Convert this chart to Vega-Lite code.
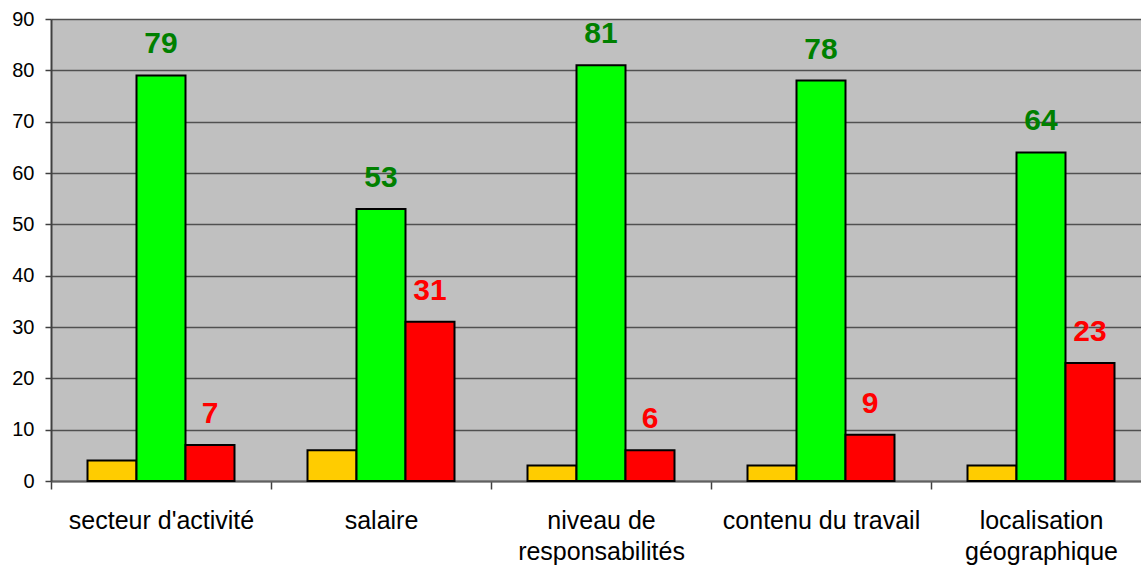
{
  "$schema": "https://vega.github.io/schema/vega-lite/v6.json",
  "autosize": {"type": "none"},
  "padding": {"left": 51, "top": 19, "right": 0, "bottom": 85},
  "width": 1100,
  "height": 462,
  "background": "white",
  "config": {
    "view": {"fill": "#C0C0C0", "stroke": null},
    "font": "Liberation Sans"
  },
  "data": {
    "values": [
      {"categorie": "secteur d'activité", "serie": "Série 1", "valeur": 4},
      {"categorie": "secteur d'activité", "serie": "Série 2", "valeur": 79},
      {"categorie": "secteur d'activité", "serie": "Série 3", "valeur": 7},
      {"categorie": "salaire", "serie": "Série 1", "valeur": 6},
      {"categorie": "salaire", "serie": "Série 2", "valeur": 53},
      {"categorie": "salaire", "serie": "Série 3", "valeur": 31},
      {"categorie": "niveau de responsabilités", "serie": "Série 1", "valeur": 3},
      {"categorie": "niveau de responsabilités", "serie": "Série 2", "valeur": 81},
      {"categorie": "niveau de responsabilités", "serie": "Série 3", "valeur": 6},
      {"categorie": "contenu du travail", "serie": "Série 1", "valeur": 3},
      {"categorie": "contenu du travail", "serie": "Série 2", "valeur": 78},
      {"categorie": "contenu du travail", "serie": "Série 3", "valeur": 9},
      {"categorie": "localisation géographique", "serie": "Série 1", "valeur": 3},
      {"categorie": "localisation géographique", "serie": "Série 2", "valeur": 64},
      {"categorie": "localisation géographique", "serie": "Série 3", "valeur": 23}
    ]
  },
  "encoding": {
    "x": {
      "field": "categorie",
      "type": "nominal",
      "sort": null,
      "scale": {"paddingInner": 0, "paddingOuter": 0},
      "axis": {
        "title": null,
        "labelAngle": 0,
        "labelFont": "Liberation Sans",
        "labelFontSize": 25,
        "labelColor": "black",
        "labelLineHeight": 31,
        "labelPadding": 19,
        "labelLimit": 300,
        "tickBand": "extent",
        "tickSize": 8,
        "tickColor": "#404040",
        "tickWidth": 1.5,
        "domainColor": "#606060",
        "domainWidth": 2,
        "grid": false,
        "labelExpr": "datum.label == 'niveau de responsabilités' ? ['niveau de', 'responsabilités'] : datum.label == 'localisation géographique' ? ['localisation', 'géographique'] : datum.label"
      }
    },
    "xOffset": {
      "field": "serie",
      "type": "nominal",
      "sort": ["Série 1", "Série 2", "Série 3"],
      "scale": {"paddingInner": 0, "paddingOuter": 0.745}
    },
    "y": {
      "field": "valeur",
      "type": "quantitative",
      "scale": {"domain": [0, 90], "nice": false},
      "axis": {
        "title": null,
        "values": [0, 10, 20, 30, 40, 50, 60, 70, 80, 90],
        "labelFont": "Liberation Sans",
        "labelFontSize": 20,
        "labelColor": "black",
        "labelPadding": 11,
        "tickSize": 6,
        "tickColor": "#404040",
        "tickWidth": 1.5,
        "domainColor": "#404040",
        "domainWidth": 2,
        "grid": true,
        "gridColor": "#505050",
        "gridWidth": 1.5
      }
    }
  },
  "layer": [
    {
      "mark": {"type": "bar", "stroke": "black", "strokeWidth": 2},
      "encoding": {
        "fill": {
          "field": "serie",
          "type": "nominal",
          "scale": {"domain": ["Série 1", "Série 2", "Série 3"], "range": ["#FFCC00", "#00FF00", "#FF0000"]},
          "legend": null
        }
      }
    },
    {
      "transform": [{"filter": "datum.serie != 'Série 1'"}],
      "mark": {"type": "text", "fontSize": 30, "fontWeight": "bold", "font": "Liberation Sans", "baseline": "alphabetic", "dy": -22},
      "encoding": {
        "text": {"field": "valeur", "type": "quantitative"},
        "color": {
          "condition": {"test": "datum.serie == 'Série 2'", "value": "#008000"},
          "value": "#FF0000"
        }
      }
    }
  ]
}
